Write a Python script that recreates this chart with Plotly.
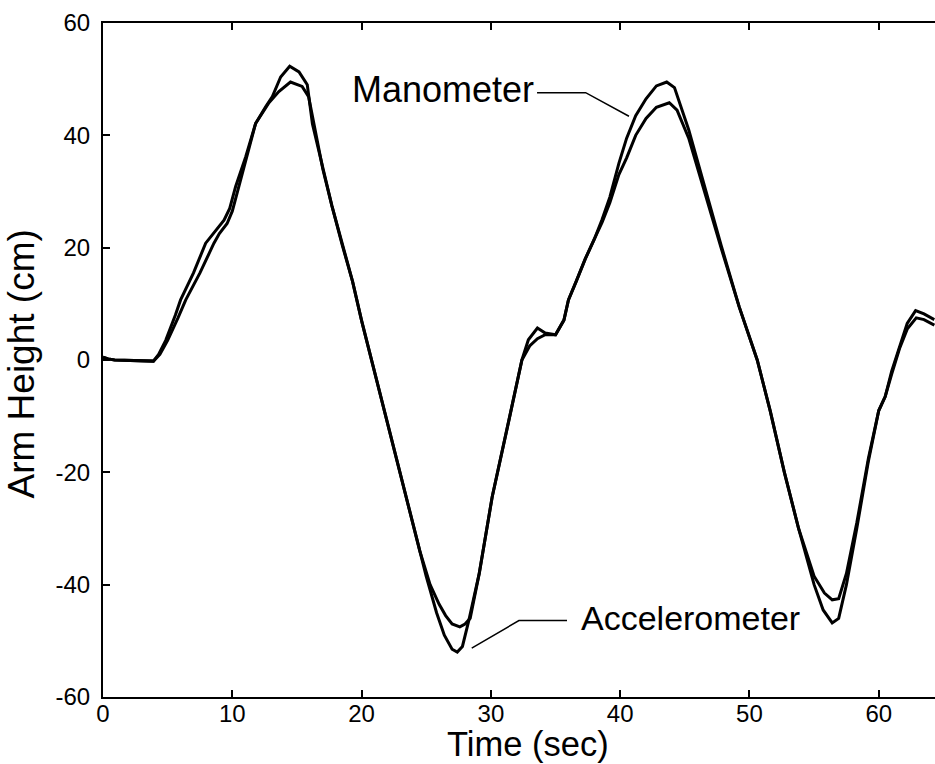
import plotly.graph_objects as go

# ---- data ----
acc_t = [0, 0.4, 0.9, 2.0, 3.0, 3.9, 4.3, 4.85, 5.6, 6.0, 7.0, 7.94, 8.7, 9.36, 9.8, 10.26, 11.04, 11.8,
         12.58, 13.1, 13.74, 14.44, 15.16, 15.8, 16.2, 17.0, 17.7, 18.5, 19.3, 20.0, 20.7, 21.35, 22.5,
         23.5, 24.5, 25.0, 25.8, 26.4, 27.0, 27.4, 27.8, 28.3, 29.1, 30.1, 31.4, 32.4, 32.9, 33.6, 34.2,
         35.0, 35.65, 36.0, 36.6, 37.3, 38.0, 38.6, 39.2, 39.9, 40.5, 41.2, 42.0, 42.8, 43.8, 44.4, 45.3,
         46.5, 47.8, 49.2, 50.6, 51.6, 52.7, 53.8, 55.0, 55.7, 56.4, 56.9, 57.5, 58.3, 59.2, 60.0, 60.5,
         61.0, 61.6, 62.2, 62.85, 63.5, 64.3]
acc_y = [0.5, 0.2, 0.0, -0.1, -0.2, -0.2, 1.0, 3.5, 8.0, 10.7, 15.5, 20.8, 23.0, 24.9, 27.0, 30.9, 36.2, 42.1,
         45.1, 46.9, 50.4, 52.3, 51.3, 49.0, 42.0, 34.0, 27.5, 20.5, 14.0, 7.0, 0.6, -5.0, -15.8,
         -25.0, -34.0, -38.5, -45.0, -49.0, -51.5, -52.0, -51.0, -46.3, -38.0, -24.4, -10.7, 0.0, 3.6, 5.7, 4.8,
         4.5, 7.1, 10.7, 14.0, 18.0, 21.5, 24.5, 28.0, 33.0, 36.0, 40.0, 43.0, 45.0, 45.8, 44.5, 39.5,
         30.0, 20.0, 9.5, 0.0, -9.0, -20.0, -30.0, -40.0, -44.5, -46.8, -46.0, -40.0, -30.0, -18.0, -9.0, -6.5,
         -2.0, 2.4, 6.5, 8.8, 8.2, 7.2]

man_t = [0, 0.4, 0.9, 2.0, 3.0, 3.9, 4.4, 5.0, 5.8, 6.4, 7.5, 8.58, 9.0, 9.6, 10.0, 10.4, 11.1, 11.8,
         12.8, 13.6, 14.5, 15.4, 15.9, 16.3, 17.0, 17.7, 18.5, 19.3, 20.0, 20.7, 21.35, 22.5,
         23.5, 24.5, 25.3, 26.0, 26.5, 27.0, 27.6, 28.0, 28.4, 29.1, 30.1, 31.4, 32.4, 33.0, 33.6, 34.2,
         35.0, 35.65, 36.0, 36.6, 37.3, 38.0, 38.6, 39.2, 39.9, 40.5, 41.2, 42.0, 42.8, 43.6, 44.2, 45.3,
         46.5, 47.8, 49.2, 50.6, 51.6, 52.7, 53.8, 55.0, 55.8, 56.4, 56.9, 57.5, 58.3, 59.2, 60.0, 60.5,
         61.0, 61.6, 62.2, 62.9, 63.5, 64.3]
man_y = [0.5, 0.2, 0.0, -0.1, -0.2, -0.2, 1.0, 3.5, 7.5, 10.7, 15.5, 20.8, 22.5, 24.3, 26.5, 30.0, 35.8, 42.1,
         45.7, 47.8, 49.5, 48.7, 46.9, 42.0, 34.0, 27.5, 20.5, 14.0, 7.0, 0.6, -5.0, -15.8,
         -25.0, -34.0, -40.0, -43.5, -45.5, -47.0, -47.5, -47.0, -46.0, -38.0, -24.4, -10.7, 0.0, 2.5, 3.8, 4.5,
         4.5, 7.1, 10.7, 14.0, 18.0, 21.5, 25.0, 29.0, 35.0, 39.5, 43.5, 46.5, 48.8, 49.5, 48.5, 41.0,
         31.0, 20.5, 9.5, 0.0, -9.0, -20.0, -30.0, -38.5, -41.5, -42.7, -42.5, -38.0, -29.0, -17.5, -9.0, -6.5,
         -2.5, 2.0, 5.5, 7.5, 7.2, 6.2]

x_ticks = [0, 10, 20, 30, 40, 50, 60]
x_tick_text = ["0", "10", "20", "30", "40", "50", "60"]
y_ticks = [-60, -40, -20, 0, 20, 40, 60]
y_tick_text = ["-60", "-40", "-20", "0", "20", "40", "60"]
x_range = [0, 64.35]
y_range = [-60, 60]

FONT = "Liberation Sans, Arial, sans-serif"

fig = go.Figure()
fig.add_trace(go.Scatter(x=acc_t, y=acc_y, mode="lines", name="Accelerometer",
                         line=dict(color="black", width=3)))
fig.add_trace(go.Scatter(x=man_t, y=man_y, mode="lines", name="Manometer",
                         line=dict(color="black", width=3)))

# leader lines for the labels
fig.add_shape(type="path", path="M 33.57 47.6 L 37.33 47.6 L 40.68 43.4",
              line=dict(color="black", width=1.5), xref="x", yref="y")
fig.add_shape(type="path", path="M 28.52 -51.3 L 32.17 -46.4 L 35.89 -46.4",
              line=dict(color="black", width=1.5), xref="x", yref="y")

fig.add_annotation(x=33.5, y=48.1, xref="x", yref="y", text="Manometer", showarrow=False,
                   xanchor="right", yanchor="middle", font=dict(size=36, color="black", family=FONT))
fig.add_annotation(x=36.8, y=-45.9, xref="x", yref="y", text="Accelerometer", showarrow=False,
                   xanchor="left", yanchor="middle", font=dict(size=34, color="black", family=FONT))

# axis titles
fig.add_annotation(x=0.511, y=-0.069, xref="paper", yref="paper", text="Time (sec)", showarrow=False,
                   xanchor="center", yanchor="middle", font=dict(size=34.5, color="black", family=FONT))
fig.add_annotation(x=-0.098, y=0.494, xref="paper", yref="paper", text="Arm Height (cm)", showarrow=False,
                   textangle=-90, xanchor="center", yanchor="middle",
                   font=dict(size=37, color="black", family=FONT))

fig.update_layout(
    width=935, height=764,
    margin=dict(l=103, r=0, t=23, b=67),
    paper_bgcolor="white", plot_bgcolor="white",
    showlegend=False,
    font=dict(family=FONT, color="black"),
    xaxis=dict(range=x_range, tickvals=x_ticks, ticktext=x_tick_text, ticks="inside", ticklen=7,
               tickwidth=1.5, tickcolor="black", showline=True, linecolor="black", linewidth=2,
               mirror="ticks", showgrid=False, zeroline=False, ticklabelstandoff=-6,
               tickfont=dict(size=24, color="black", family=FONT)),
    yaxis=dict(range=y_range, tickvals=y_ticks, ticktext=y_tick_text, ticks="inside", ticklen=7,
               tickwidth=1.5, tickcolor="black", showline=True, linecolor="black", linewidth=2,
               mirror=False, showgrid=False, zeroline=False, ticklabelstandoff=6,
               tickfont=dict(size=24, color="black", family=FONT)),
)

fig.write_html("out.html")
